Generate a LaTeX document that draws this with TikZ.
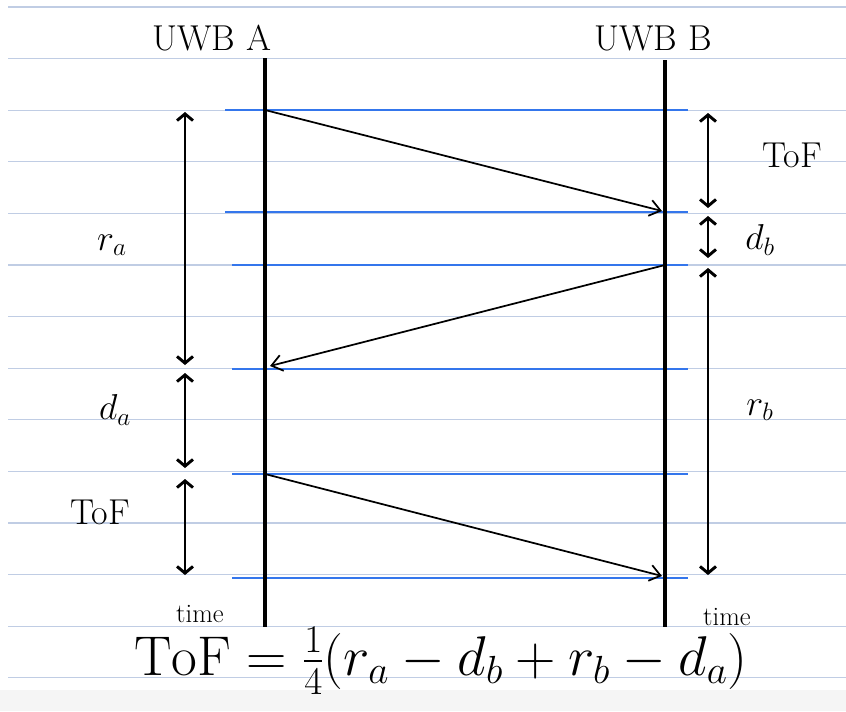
\RequirePackage{fix-cm}
\documentclass[tikz,border=0pt]{standalone}
\usepackage{amsmath,amssymb}
\usepackage{fontspec}
\usepackage{tikz}
\usetikzlibrary{arrows.meta,calc,positioning}
\definecolor{ruled}{RGB}{192,205,228}
\definecolor{evblue}{RGB}{52,118,236}

\begin{document}
\begin{tikzpicture}[x=0.75pt,y=-0.75pt,
    lifeline/.style={line width=3pt,black},
    evtick/.style={line width=1.7pt,evblue},
    signal/.style={line width=1.3pt,-{Straight Barb[length=8pt,width=12pt,line width=1.3pt]}},
    span/.style={line width=2.2pt,{Straight Barb[length=5pt,width=12pt]}-{Straight Barb[length=5pt,width=12pt]}},
    lbl/.style={inner sep=1pt,font=\fontsize{27}{31}\selectfont},
    small/.style={inner sep=1pt,font=\fontsize{20}{24}\selectfont}]
    % Papir med linjer
    \useasboundingbox (0,0) rectangle (846,711);
    \fill[white] (0,0) rectangle (846,711);
    \fill[black!4] (0,690) rectangle (846,711);
    \foreach \k in {0,...,13}
      \draw[ruled,line width=0.8pt] (8,{7+51.6*\k}) -- (846,{7+51.6*\k});
    % Tidslinjer for de to enheder
    \coordinate (topA) at (265,58);
    \coordinate (botA) at (265,627);
    \coordinate (topB) at (665,60);
    \coordinate (botB) at (665,627);
    \node[lbl] (uwbA) at (212,38) {UWB A};
    \node[lbl] (uwbB) at (653,38) {UWB B};
    % Haendelser (blaa streger)
    \foreach \y/\xs in {110/225,212/225,265/232,369/232,474/232,578/232}
      \draw[evtick] (\xs,\y) -- (688,\y);
    \draw[lifeline] (topA) -- (botA);
    \draw[lifeline] (topB) -- (botB);
    \coordinate (a1) at (265,110);
    \coordinate (b1) at (662,211);
    \coordinate (b2) at (665,265);
    \coordinate (a2) at (270,366);
    \coordinate (a3) at (265,474);
    \coordinate (b3) at (662,576);
    \draw[signal] (a1) -- (b1);
    \draw[signal] (b2) -- (a2);
    \draw[signal] (a3) -- (b3);
    % Intervaller paa A-siden
    \coordinate (ra0) at (185,112);
    \coordinate (ra1) at (185,365);
    \coordinate (da0) at (185,373);
    \coordinate (da1) at (185,468);
    \coordinate (ta0) at (185,479);
    \coordinate (ta1) at (185,575);
    \draw[span] (ra0) -- (ra1);
    \draw[span] (da0) -- (da1);
    \draw[span] (ta0) -- (ta1);
    \node[lbl] (rA) at (112,245) {$r_a$};
    \node[lbl] (dA) at (115,410) {$d_a$};
    \node[lbl] (tofL) at (100,512) {ToF};
    % Intervaller paa B-siden
    \coordinate (tb0) at (708,113);
    \coordinate (tb1) at (708,208);
    \coordinate (db0) at (708,216);
    \coordinate (db1) at (708,258);
    \coordinate (rb0) at (708,268);
    \coordinate (rb1) at (708,575);
    \draw[span] (tb0) -- (tb1);
    \draw[span] (db0) -- (db1);
    \draw[span] (rb0) -- (rb1);
    \node[lbl] (tofR) at (792,155) {ToF};
    \node[lbl] (dB) at (760,240) {$d_b$};
    \node[lbl] (rB) at (760,410) {$r_b$};
    % Tid og formel
    \node[small] (timeA) at (200,614) {time};
    \node[small] (timeB) at (727,617) {time};
    \node[inner sep=1pt,font=\fontsize{42}{48}\selectfont] (formula) at (441,661)
      {$\mathrm{ToF}=\tfrac{1}{4}(r_a-d_b+r_b-d_a)$};
\end{tikzpicture}
\end{document}
